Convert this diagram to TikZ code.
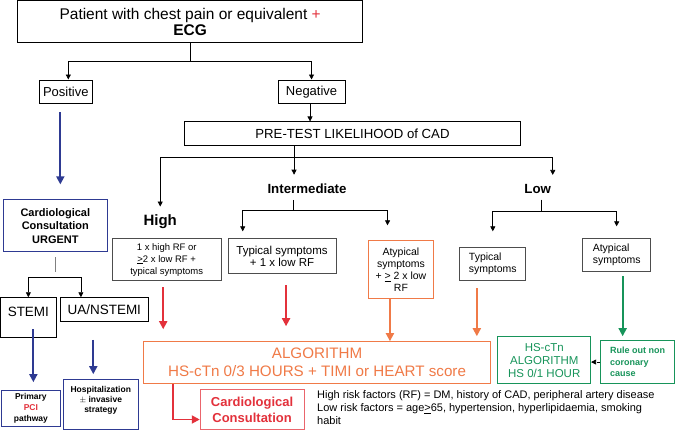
\documentclass[tikz,border=0pt]{standalone}
\usepackage{fontspec}
\setmainfont{Liberation Sans}
\usetikzlibrary{arrows.meta}
\definecolor{navy}{HTML}{2E3A92}
\definecolor{hred}{HTML}{E3313B}
\definecolor{horange}{HTML}{F07A47}
\definecolor{hgreen}{HTML}{17945A}
\definecolor{hgray}{HTML}{4D4D4D}

\begin{document}
\begin{tikzpicture}[x=1pt,y=-1pt,
  box/.style={draw, line width=0.8pt, inner sep=1pt, align=center},
  lbl/.style={inner sep=1pt, font=\bfseries\fontsize{13.3}{15}\selectfont},
  blk/.style={line width=0.7pt, -{Triangle[width=5pt,length=5pt]}},
  bluearr/.style={navy, line width=1.8pt, -{Triangle[width=8pt,length=8pt]}},
  redarr/.style={hred, line width=1.8pt, -{Triangle[width=8pt,length=8pt]}},
  orangearr/.style={horange, line width=1.8pt, -{Triangle[width=8pt,length=8pt]}},
  greenarr/.style={hgreen, line width=1.8pt, -{Triangle[width=8pt,length=8pt]}}]

\fill [white] (0,0) rectangle (675,431);

\node [box, line width=1pt, minimum width=346pt, minimum height=42pt, font=\fontsize{15.5}{17}\selectfont] (patient) at (190,22) {Patient with chest pain or equivalent \textcolor{hred}{+}\\\textbf{ECG}};

\node [box, minimum width=53pt, minimum height=24pt, font=\fontsize{13}{15}\selectfont] (positive) at (65.5,92) {Positive};
\node [box, minimum width=67pt, minimum height=24pt, font=\fontsize{13}{15}\selectfont] (negative) at (311.5,92) {Negative};
\node [box, minimum width=337pt, minimum height=24pt, font=\fontsize{13.2}{15}\selectfont] (pretest) at (352.5,134) {PRE-TEST LIKELIHOOD of CAD};

\node [lbl, font=\bfseries\fontsize{15}{18}\selectfont] (high) at (160,221.5) {High};
\node [lbl] (inter) at (307,189) {Intermediate};
\node [lbl] (low) at (538,189) {Low};

\node [box, draw=navy, minimum width=104pt, minimum height=52pt, font=\bfseries\fontsize{11}{13.5}\selectfont] (urgent) at (55,226) {Cardiological\\Consultation\\URGENT};
\node [box, minimum width=56pt, minimum height=40pt, font=\fontsize{13.5}{15}\selectfont] (stemi) at (28,318) {STEMI\rule[-12pt]{0pt}{12pt}};
\node [box, minimum width=88pt, minimum height=24pt, font=\fontsize{13.5}{15}\selectfont] (ua) at (104,310) {UA/NSTEMI};
\node [box, draw=navy, minimum width=59pt, minimum height=36pt, font=\bfseries\fontsize{8.5}{11}\selectfont] (pci) at (30.5,409) {Primary\\\textcolor{hred}{PCI}\\pathway};
\node [box, draw=navy, minimum width=75pt, minimum height=50pt, font=\bfseries\fontsize{8.5}{10}\selectfont] (hosp) at (100.5,405) {Hospitalization\\$\pm$ invasive\\strategy\rule[-11pt]{0pt}{11pt}};

\node [box, draw=hgray, minimum width=109pt, minimum height=42pt, font=\fontsize{9.5}{12}\selectfont] (highrf) at (166.5,260) {1 x high RF or\\\underline{>}2 x low RF +\\typical symptoms};
\node [box, draw=hgray, minimum width=108pt, minimum height=35pt, font=\fontsize{11.5}{12.5}\selectfont] (typone) at (282,256.5) {Typical symptoms\\+ 1 x low RF};
\node [box, draw=horange, minimum width=66pt, minimum height=58pt, font=\fontsize{10.5}{12.3}\selectfont] (atypinter) at (401,270) {Atypical\\symptoms\\+ \underline{>} 2 x low\\RF};
\node [box, draw=hgray, align=left, minimum width=66pt, minimum height=33pt, font=\fontsize{10.5}{12}\selectfont] (typlow) at (493,264.5) {Typical\\symptoms};
\node [box, draw=hgray, align=left, minimum width=68pt, minimum height=33pt, font=\fontsize{10.5}{12}\selectfont] (atyplow) at (617,255.5) {Atypical\\symptoms};

\node [box, draw=horange, text=horange, minimum width=348pt, minimum height=42pt, font=\fontsize{15.2}{18}\selectfont] (algo) at (317,363) {ALGORITHM\\HS-cTn 0/3 HOURS + TIMI or HEART score};
\node [box, draw=hred!75, text=hred, minimum width=104pt, minimum height=40pt, font=\bfseries\fontsize{13}{16}\selectfont] (consult) at (252,410) {Cardiological\\Consultation};
\node [box, draw=hgreen, text=hgreen, minimum width=93pt, minimum height=47pt, font=\fontsize{11.5}{13}\selectfont] (hscTn) at (544.5,360.5) {HS-cTn\\ALGORITHM\\HS 0/1 HOUR};
\node [box, draw=hgreen, text=hgreen, align=left, minimum width=74pt, minimum height=43pt, font=\bfseries\fontsize{9}{11.5}\selectfont] (ruleout) at (638,362.5) {Rule out non\\coronary\\cause};

\node [anchor=north west, align=left, inner sep=1pt, font=\fontsize{11}{13}\selectfont] (note) at (316,390) {High risk factors (RF) = DM, history of CAD, peripheral artery disease\\Low risk factors = age\underline{>}65, hypertension, hyperlipidaemia, smoking\\habit};

\coordinate (s1) at (190,61);
\coordinate (s2) at (294,158);
\coordinate (s3) at (293,211);
\coordinate (s4) at (542,212);
\coordinate (s5) at (55,278);

\draw [line width=0.7pt] (patient) -- (s1);
\draw [blk] (s1) -| ([xshift=2.5pt]positive.north);
\draw [blk] (s1) -| (negative.north);
\draw [blk] ([xshift=-1.5pt]negative.south) -- ([xshift=-1.5pt]negative.south |- pretest.north);

\draw [line width=0.7pt] (pretest.south -| s2) -- (s2);
\draw [blk, shorten >=6.5pt] (s2) -| (high.north);
\draw [blk, shorten >=8pt] (s2) -- (s2 |- inter.north);
\draw [blk, shorten >=8pt] (s2) -| ([xshift=15pt]low.north);

\draw [line width=0.7pt, shorten <=5pt] (inter.south -| s3) -- (s3);
\draw [blk, shorten >=7pt] (s3) -| ([xshift=15pt]typone.north west);
\draw [blk, shorten >=15pt] (s3) -| ([xshift=20pt]atypinter.north west);

\draw [line width=0.7pt, shorten <=5pt] (low.south -| s4) -- (s4);
\draw [blk, shorten >=16pt] (s4) -| (typlow.north);
\draw [blk, shorten >=12pt] (s4) -| (atyplow.north);

\draw [bluearr, shorten <=8pt, shorten >=15pt] ([xshift=-5.5pt]positive.south) -- ([xshift=-5.5pt]positive.south |- urgent.north);
\draw [gray, line width=0.9pt, shorten <=5pt, shorten >=6pt] (urgent) -- (s5);
\draw [blk] (s5) -| (stemi.north);
\draw [blk] (s5) -| ([xshift=21pt]ua.north west);
\draw [bluearr, shorten >=8pt] ([xshift=5pt,yshift=9pt]stemi.south) -- ([xshift=2.5pt]pci.north);
\draw [bluearr, shorten <=18pt, shorten >=5pt] ([xshift=-11pt]ua.south) -- ([xshift=-11pt]ua.south |- hosp.north);

\draw [redarr, shorten <=6pt, shorten >=12pt] ([xshift=-3.5pt]highrf.south) -- ([xshift=-3.5pt]highrf.south |- algo.north);
\draw [redarr, shorten <=11pt, shorten >=15pt] ([xshift=4pt]typone.south) -- ([xshift=4pt]typone.south |- algo.north);
\draw [orangearr] ([xshift=-11pt]atypinter.south) -- ([xshift=-11pt]atypinter.south |- algo.north);
\draw [orangearr, shorten <=7pt, shorten >=5pt] ([xshift=-16pt]typlow.south) -- ([xshift=-16pt]typlow.south |- algo.north);
\draw [greenarr, shorten <=4pt, shorten >=4pt] ([xshift=6pt]atyplow.south) -- ([xshift=6pt]atyplow.south |- ruleout.north);
\draw [blk, dashed] (ruleout.west) -- (ruleout.west -| hscTn.east);
\draw [redarr] ([xshift=30pt]algo.south west) |- ([yshift=-10pt]consult.west);

\end{tikzpicture}
\end{document}
